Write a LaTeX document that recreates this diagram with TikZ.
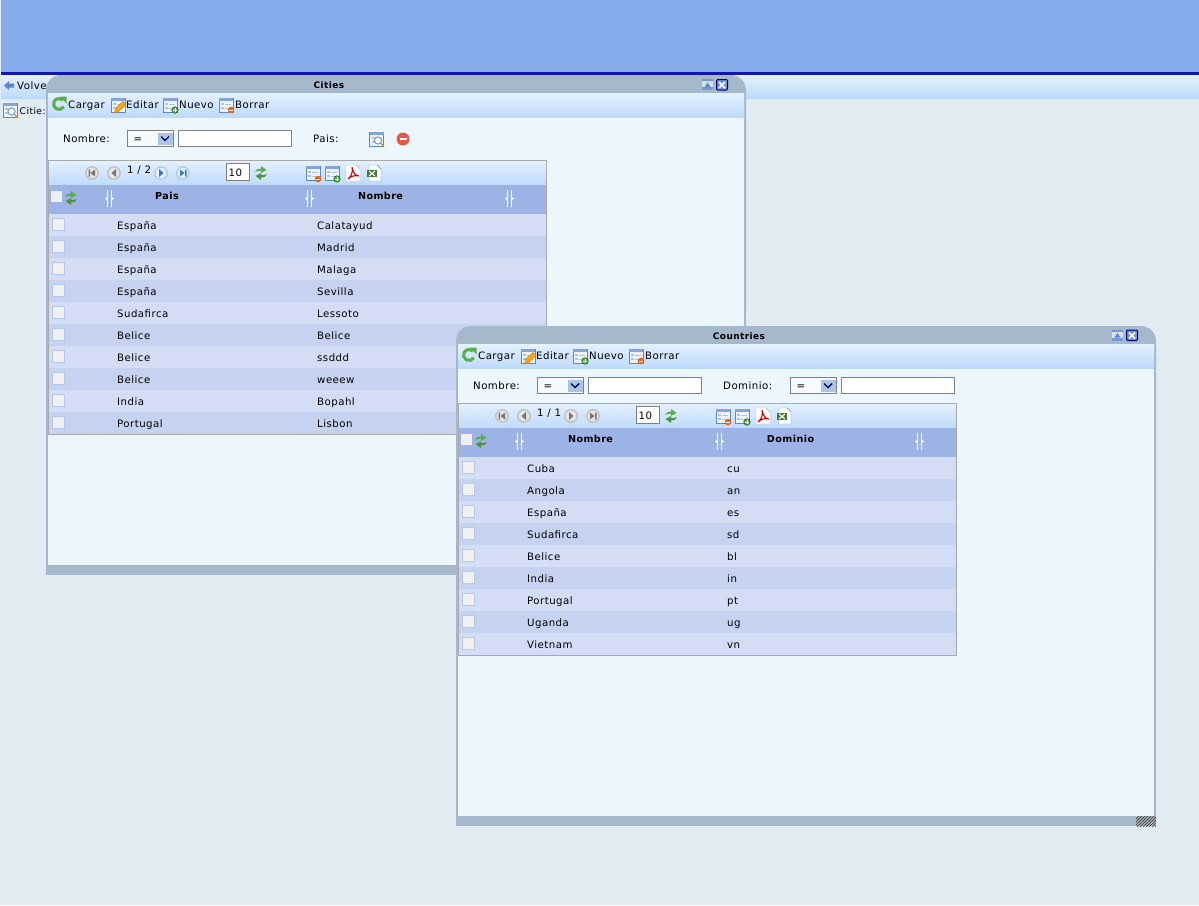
\documentclass[tikz,border=0pt]{standalone}
\usepackage{fontspec}
\setmainfont[LetterSpace=4.5]{DejaVu Sans}
\usetikzlibrary{patterns}
\definecolor{pagebg}{HTML}{E1EBF2}
\definecolor{bandblue}{HTML}{85ADEC}
\definecolor{banddark}{HTML}{1414AE}
\definecolor{wingray}{HTML}{A6B8CC}
\definecolor{winbody}{HTML}{EBF6FD}
\definecolor{barhi}{HTML}{E4F1FF}
\definecolor{barmid}{HTML}{DCEBFE}
\definecolor{barlo}{HTML}{BEDAFA}
\definecolor{headblue}{HTML}{9DB3E6}
\definecolor{rowone}{HTML}{D3DDF5}
\definecolor{rowtwo}{HTML}{C5D3F1}
\definecolor{gridline}{HTML}{A9A9A9}
\definecolor{iconblue}{HTML}{5A88C8}
\definecolor{icongreen}{HTML}{58AE48}
\definecolor{iconred}{HTML}{E8584A}
\definecolor{iconorange}{HTML}{E8661C}
\definecolor{graysym}{HTML}{777777}
\definecolor{grayring}{HTML}{C4C4C4}
\definecolor{grayfill}{HTML}{E6E6E6}
\definecolor{bluesym}{HTML}{3F78C8}
\definecolor{bluering}{HTML}{B5CFEF}
\definecolor{bluefill}{HTML}{E6F0FB}
\tikzset{
  lbl/.style={inner sep=0pt,anchor=west,font=\fontsize{10.2}{11}\selectfont,text height=9pt,text depth=1pt},
  headlbl/.style={inner sep=0pt,anchor=center,font=\fontsize{9.6}{11}\selectfont\bfseries,text height=7pt,text depth=2pt},
  titlelbl/.style={inner sep=0pt,anchor=center,font=\fontsize{9}{11}\selectfont\bfseries,text height=7pt,text depth=2pt},
  toolbar/.style={top color=barhi,middle color=barmid,bottom color=barlo},
  fieldbox/.style={fill=white,draw=black!50,line width=1pt},
  chkbox/.style={fill=gray!12,draw=iconblue!45,line width=1pt}
}
\newcommand{\tableicon}[2]{
\begin{scope}[shift={(#1,#2)}]
\draw [iconblue,fill=iconblue!10] (-7,-7) rectangle (7,7);
\fill [iconblue!75] (-7,-7) rectangle (7,-4.5);
\fill [iconblue!50] (-5,-2) rectangle (-2,0);
\fill [iconblue!50] (-5,2) rectangle (-2,4);
\draw [iconblue!50] (-1,-1) -- (5,-1);
\draw [iconblue!50] (-1,3) -- (5,3);
\end{scope}
}
\newcommand{\searchicon}[2]{
\tableicon{#1}{#2}
\begin{scope}[shift={(#1,#2)}]
\draw [iconblue,fill=white,line width=.8pt] (1.5,1.5) circle (3.6);
\draw [orange!80!brown,line width=1.2pt] (4.5,4.5) -- (7.5,7.5);
\end{scope}
}
\newcommand{\pencilicon}[2]{
\tableicon{#1}{#2}
\begin{scope}[shift={(#1,#2)}]
\fill [orange!70!yellow,draw=brown!80!orange,line width=.5pt] (-3.5,8) -- (-2.5,3.5) -- (5,-3.5) -- (8,-.5) -- (0.5,6.5) -- cycle;
\end{scope}
}
\newcommand{\plusbadge}[2]{
\begin{scope}[shift={(#1,#2)}]
\fill [icongreen,draw=green!30!black] (0,0) circle (3.3);
\draw [white,line width=1pt] (-2,0) -- (2,0) (0,-2) -- (0,2);
\end{scope}
}
\newcommand{\minusbadge}[2]{
\begin{scope}[shift={(#1,#2)}]
\fill [iconorange] (0,0) circle (3.3);
\draw [white,line width=1pt] (-2,0) -- (2,0);
\end{scope}
}
\newcommand{\reloadicon}[2]{
\begin{scope}[shift={(#1,#2)}]
\draw [icongreen,line width=3pt] (30:5.5) arc (30:315:5.5);
\fill [icongreen] (1,-7.5) -- (7.5,-7.5) -- (7.5,-.5) -- cycle;
\end{scope}
}
\newcommand{\swapicon}[2]{
\begin{scope}[shift={(#1,#2)}]
\fill [icongreen] (-6,-1) .. controls (-5,-4) and (-3,-4.5) .. (0,-4.5) -- (0,-7) -- (5.5,-3) -- (0,0) -- (0,-2) .. controls (-2,-2.5) and (-4,-2) .. cycle;
\fill [icongreen!85!black] (6,1) .. controls (5,4) and (3,4.5) .. (0,4.5) -- (0,7) -- (-5.5,3) -- (0,0) -- (0,2) .. controls (2,2.5) and (4,2) .. cycle;
\end{scope}
}
\newcommand{\pagebtn}[4]{
\begin{scope}[shift={(#1,#2)}]
\draw [#3ring,fill=#3fill,line width=1.6pt] (0,0) circle (6.2);
\fill [#3sym] #4;
\end{scope}
}
\newcommand{\pagefirst}{(-3.5,-3.5) rectangle (-2,3.5) (3,-3.5) -- (3,3.5) -- (-1.5,0) -- cycle}
\newcommand{\pageprev}{(2,-4) -- (2,4) -- (-2.5,0) -- cycle}
\newcommand{\pagenext}{(-2,-4) -- (-2,4) -- (2.5,0) -- cycle}
\newcommand{\pagelast}{(3.5,-3.5) rectangle (2,3.5) (-3,-3.5) -- (-3,3.5) -- (1.5,0) -- cycle}
\newcommand{\pdficon}[2]{
\begin{scope}[shift={(#1,#2)}]
\draw [gray!60,fill=white] (-7,-8) -- (3,-8) -- (7,-4) -- (7,8) -- (-7,8) -- cycle;
\draw [red!80!black,line width=1.1pt] (-5,6) .. controls (-1,3) and (0,-2) .. (-1,-6) .. controls (0,-1) and (2,3) .. (6,3) .. controls (2,2) and (-2,3) .. (-5,6);
\end{scope}
}
\newcommand{\xlsicon}[2]{
\begin{scope}[shift={(#1,#2)}]
\draw [iconblue,fill=white] (-5,-8) -- (3,-8) -- (7,-4) -- (7,8) -- (-5,8) -- cycle;
\fill [icongreen!70!black] (-7,-3) rectangle (3,4);
\draw [white,line width=1.2pt] (-5,-2) -- (1,3) (1,-2) -- (-5,3);
\end{scope}
}
\newcommand{\colsep}[2]{
\begin{scope}[shift={(#1,#2)}]
\draw [white,line width=1pt] (-2,-8.5) -- (-2,8.5) (2,-8.5) -- (2,8.5);
\fill [white] (-2.5,-1.5) -- (-2.5,1.5) -- (-4.5,0) -- cycle (2.5,-1.5) -- (2.5,1.5) -- (4.5,0) -- cycle;
\end{scope}
}
\newcommand{\titlebtns}[2]{
\begin{scope}[shift={(#1,#2)}]
\fill [iconblue!85] (0,0) rectangle (11,11);
\fill [wingray!45] (0,2) rectangle (11,8);
\fill [iconblue] (5.5,3.5) -- (8.5,8) -- (2.5,8) -- cycle;
\draw [blue!45!black,fill=iconblue!90,line width=1pt,rounded corners=1pt] (14.5,0.5) rectangle (25.5,11);
\draw [white,line width=1.6pt] (17,3) -- (23,9) (23,3) -- (17,9);
\end{scope}
}
\newcommand{\winframe}[2]{
\begin{scope}[shift={(#1,#2)}]
\fill [wingray,rounded corners=15pt] (0,250) -- (0,0) -- (700,0) -- (700,250) -- cycle;
\fill [wingray] (0,200) rectangle (700,500);
\fill [winbody] (2,18) rectangle (698,490);
\shade [toolbar] (2,18) rectangle (698,42);
\end{scope}
}
\newcommand{\wintools}[3]{
\begin{scope}[shift={(#2,#3)}]
\reloadicon{13}{29}
\pencilicon{72}{30}
\tableicon{124}{30}
\plusbadge{129}{35}
\tableicon{180}{30}
\minusbadge{185}{35}
\node [lbl] (#1Cargar) at (22,29.5) {Cargar};
\node [lbl] (#1Editar) at (80,29.5) {Editar};
\node [lbl] (#1Nuevo) at (133,29.5) {Nuevo};
\node [lbl] (#1Borrar) at (189,29.5) {Borrar};
\end{scope}
}
\newcommand{\selectbox}[3]{
\begin{scope}[shift={(#2,#3)}]
\draw [fieldbox,fill=winbody!50!white] (0,0) rectangle (46,16);
\node [lbl] (#1Op) at (6,8) {=};
\fill [iconblue!50] (30,2) rectangle (45,14);
\draw [blue!40!black,line width=1.4pt] (33.5,6) -- (37.5,10) -- (41.5,6);
\end{scope}
}
\newcommand{\pagerbar}[4]{
\begin{scope}[shift={(#2,#3)}]
\draw [gridline,toolbar] (0.5,0.5) rectangle (498.5,25);
\fill [gray!40] (10,7) circle (.5) (24,7) circle (.5) (154,7) circle (.5) (169,7) circle (.5) (233,7) circle (.5) (247,7) circle (.5);
\node [lbl] (#1Page) at (79,9) {#4};
\draw [fieldbox] (178.5,3.5) rectangle (201.5,20.5);
\node [lbl] (#1Size) at (180.5,12.5) {10};
\swapicon{213}{13}
\tableicon{265}{13}
\minusbadge{270}{19}
\tableicon{284}{13}
\plusbadge{289}{19}
\pdficon{305}{13}
\xlsicon{326}{13}
\fill [headblue] (0.5,25) rectangle (498.5,54);
\fill [gray!12] (3,31) rectangle (14,42);
\swapicon{23}{38}
\end{scope}
}
\newcommand{\gridrow}[6]{
\fill [#4] (#1,#2) rectangle +(498,22);
\draw [chkbox] (#1+4,#2+4.5) rectangle +(12,12);
\node [lbl] (#3A) at (#1+68.5,#2+11) {#5};
\node [lbl] (#3B) at (#1+268.5,#2+11) {#6};
}
\begin{document}
\begin{tikzpicture}[x=1pt,y=-1pt]
\useasboundingbox (0,0) rectangle (1199,905);
\fill [pagebg] (0,0) rectangle (1199,905);
\fill [bandblue] (1,0) rectangle (1199,72);
\fill [banddark] (1,72) rectangle (1199,75);
\shade [toolbar] (1,75) rectangle (1199,98);
\fill [iconblue] (4,85.5) -- (9,81) -- (9,83.5) -- (14,83.5) -- (14,87.5) -- (9,87.5) -- (9,90) -- cycle;
\node [lbl] (backLbl) at (17,85) {Volve};
\searchicon{10}{110}
\node [lbl,font=\fontsize{9.2}{11}\selectfont] (citiesLbl) at (19.5,110) {Citie:};
\winframe{46}{75}
\titlebtns{702}{79}
\node [titlelbl] (citiesTitle) at (329,85.5) {Cities};
\wintools{cities}{46}{75}
\node [lbl] (cityNombre) at (63,138) {Nombre:};
\selectbox{cityOp}{127.5}{130.5}
\draw [fieldbox] (178.5,130.5) rectangle (291.5,146);
\node [lbl] (cityPais) at (313,138) {Pais:};
\searchicon{376.5}{139}
\fill [iconred] (403,139) circle (6.5);
\draw [white,line width=1.6pt] (399.5,139) -- (406.5,139);
\pagerbar{city}{48}{160}{1 / 2}
\pagebtn{92}{173}{gray}{\pagefirst}
\pagebtn{114}{173}{gray}{\pageprev}
\pagebtn{161}{173}{blue}{\pagenext}
\pagebtn{183}{173}{blue}{\pagelast}
\colsep{109.5}{198.5}
\colsep{309.5}{198.5}
\colsep{509.5}{198.5}
\node [headlbl] (cityHeadA) at (167,197) {Pais};
\node [headlbl] (cityHeadB) at (380.5,197) {Nombre};
\gridrow{48.5}{214}{cityA}{rowone}{España}{Calatayud}
\gridrow{48.5}{236}{cityB}{rowtwo}{España}{Madrid}
\gridrow{48.5}{258}{cityC}{rowone}{España}{Malaga}
\gridrow{48.5}{280}{cityD}{rowtwo}{España}{Sevilla}
\gridrow{48.5}{302}{cityE}{rowone}{Sudafirca}{Lessoto}
\gridrow{48.5}{324}{cityF}{rowtwo}{Belice}{Belice}
\gridrow{48.5}{346}{cityG}{rowone}{Belice}{ssddd}
\gridrow{48.5}{368}{cityH}{rowtwo}{Belice}{weeew}
\gridrow{48.5}{390}{cityI}{rowone}{India}{Bopahl}
\gridrow{48.5}{412}{cityJ}{rowtwo}{Portugal}{Lisbon}
\draw [gridline] (48.5,160.5) rectangle (546.5,434.5);
\winframe{456}{326}
\titlebtns{1112}{329.5}
\node [titlelbl] (countriesTitle) at (739,336.5) {Countries};
\wintools{countries}{456}{326}
\node [lbl] (landNombre) at (473,385) {Nombre:};
\selectbox{landOpA}{537.5}{377.5}
\draw [fieldbox] (588.5,377.5) rectangle (701.5,393);
\node [lbl] (landDominio) at (723,385) {Dominio:};
\selectbox{landOpB}{790.5}{377.5}
\draw [fieldbox] (841.5,377.5) rectangle (954.5,393);
\pagerbar{land}{458}{403}{1 / 1}
\pagebtn{502}{416}{gray}{\pagefirst}
\pagebtn{524}{416}{gray}{\pageprev}
\pagebtn{571}{416}{gray}{\pagenext}
\pagebtn{593}{416}{gray}{\pagelast}
\colsep{519.5}{441.5}
\colsep{719.5}{441.5}
\colsep{919.5}{441.5}
\node [headlbl] (landHeadA) at (590.5,440) {Nombre};
\node [headlbl] (landHeadB) at (790.5,440) {Dominio};
\gridrow{458.5}{457}{landA}{rowone}{Cuba}{cu}
\gridrow{458.5}{479}{landB}{rowtwo}{Angola}{an}
\gridrow{458.5}{501}{landC}{rowone}{España}{es}
\gridrow{458.5}{523}{landD}{rowtwo}{Sudafirca}{sd}
\gridrow{458.5}{545}{landE}{rowone}{Belice}{bl}
\gridrow{458.5}{567}{landF}{rowtwo}{India}{in}
\gridrow{458.5}{589}{landG}{rowone}{Portugal}{pt}
\gridrow{458.5}{611}{landH}{rowtwo}{Uganda}{ug}
\gridrow{458.5}{633}{landI}{rowone}{Vietnam}{vn}
\draw [gridline] (458.5,403.5) rectangle (956.5,655.5);
\fill [wingray] (1136,816) rectangle (1156,826);
\fill [pattern=north east lines,pattern color=black!70!brown] (1136,816) rectangle (1156,826);
\end{tikzpicture}
\end{document}
